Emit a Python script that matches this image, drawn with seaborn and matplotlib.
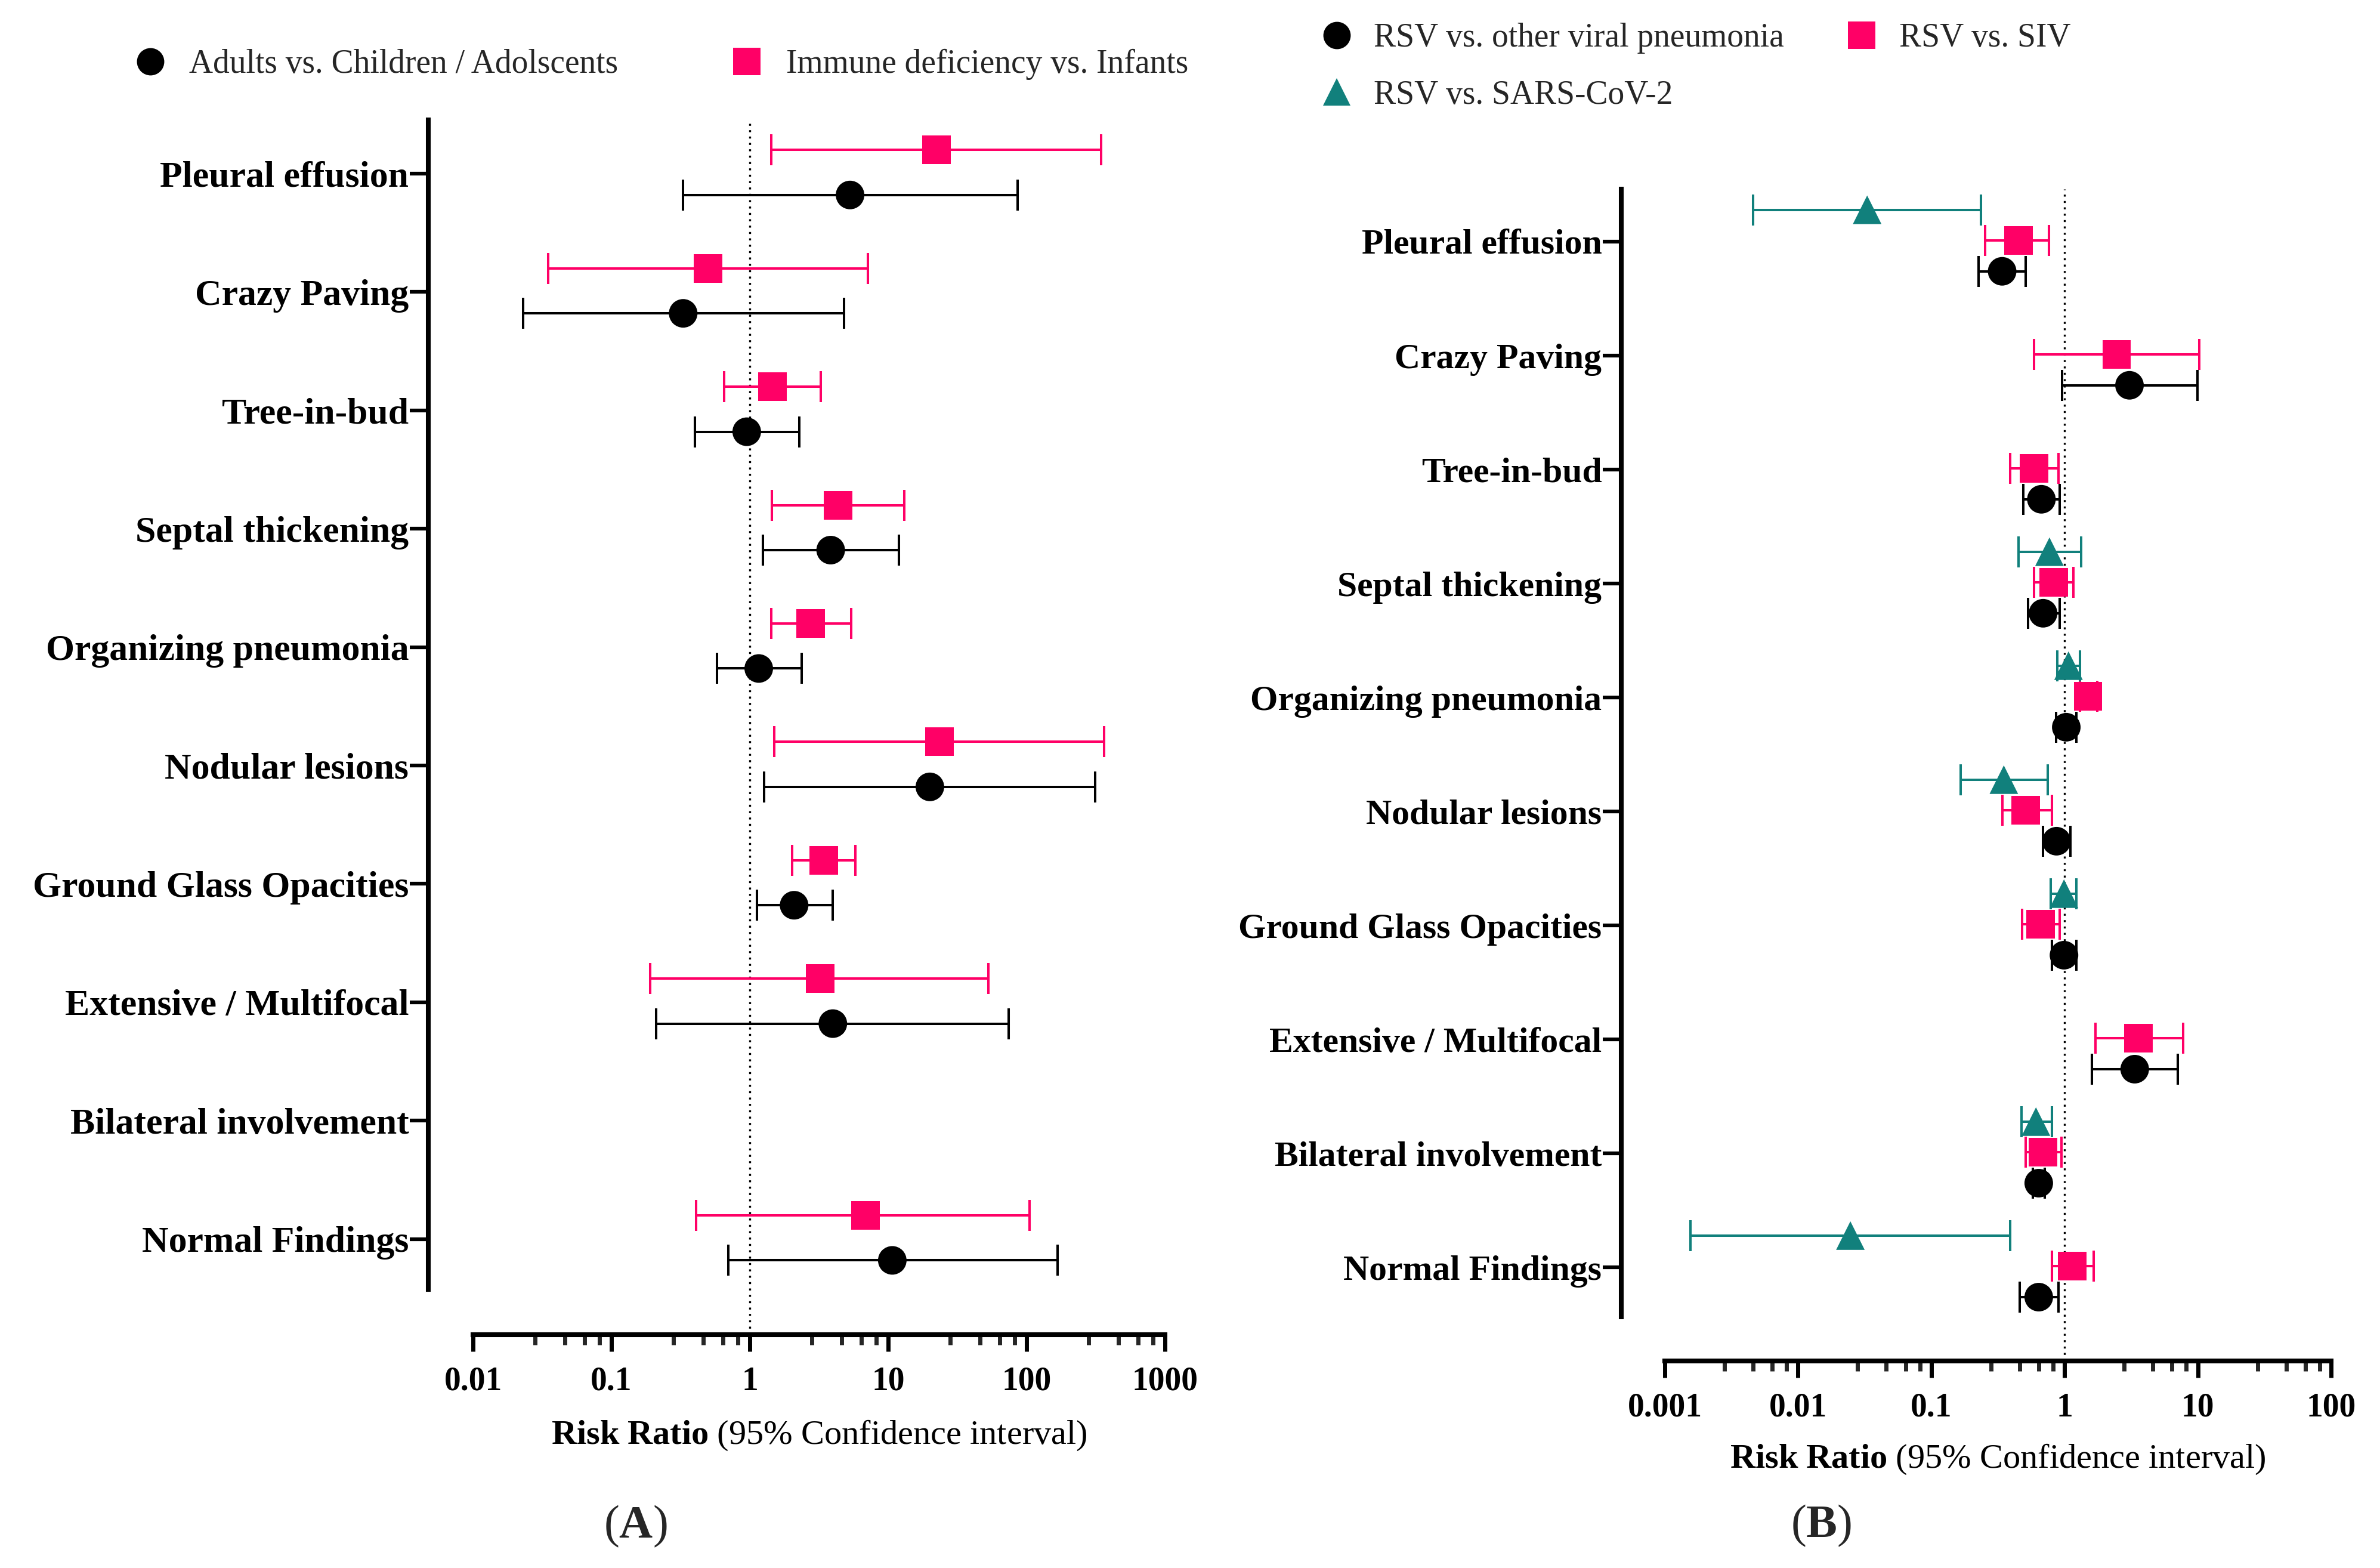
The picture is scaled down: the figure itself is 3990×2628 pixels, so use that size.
import numpy as np
import pandas as pd
import seaborn as sns
import matplotlib.pyplot as plt
from matplotlib.lines import Line2D
from matplotlib.ticker import NullFormatter

# findings, top to bottom
findings = ["Pleural effusion", "Crazy Paving", "Tree-in-bud", "Septal thickening",
            "Organizing pneumonia", "Nodular lesions", "Ground Glass Opacities",
            "Extensive / Multifocal", "Bilateral involvement", "Normal Findings"]

# Panel A: Adults vs. Children/Adolscents
adult_rr = [5.3, 0.33, 0.95, 3.84, 1.16, 20.0, 2.09, 3.98, np.nan, 10.7]
adult_lo = [0.33, 0.023, 0.40, 1.24, 0.58, 1.27, 1.13, 0.21, np.nan, 0.70]
adult_hi = [86, 4.8, 2.28, 12.0, 2.37, 312, 3.98, 74, np.nan, 168]

# Panel A: Immune deficiency vs. Infants
immune_rr = [22.3, 0.50, 1.46, 4.35, 2.76, 23.5, 3.42, 3.21, np.nan, 6.87]
immune_lo = [1.43, 0.035, 0.65, 1.44, 1.43, 1.5, 2.03, 0.19, np.nan, 0.41]
immune_hi = [346, 7.1, 3.25, 13.1, 5.4, 363, 5.8, 53, np.nan, 105]

# Panel B: RSV vs. other viral pneumonia
other_rr = [0.34, 3.07, 0.67, 0.69, 1.03, 0.87, 0.99, 3.36, 0.64, 0.64]
other_lo = [0.226, 0.96, 0.49, 0.53, 0.86, 0.69, 0.80, 1.6, 0.58, 0.46]
other_hi = [0.51, 9.9, 0.92, 0.92, 1.23, 1.11, 1.23, 7.07, 0.71, 0.90]

# Panel B: RSV vs. SIV
siv_rr = [0.45, 2.46, 0.59, 0.83, 1.5, 0.51, 0.66, 3.59, 0.69, 1.14]
siv_lo = [0.254, 0.59, 0.39, 0.59, 1.3, 0.34, 0.48, 1.71, 0.51, 0.80]
siv_hi = [0.76, 10.3, 0.90, 1.17, 1.75, 0.80, 0.92, 7.74, 0.95, 1.66]

# Panel B: RSV vs. SARS-CoV-2
cov_rr = [0.033, np.nan, np.nan, 0.77, 1.07, 0.35, 0.99, np.nan, 0.61, 0.0247]
cov_lo = [0.0046, np.nan, np.nan, 0.45, 0.88, 0.166, 0.79, np.nan, 0.475, 0.00155]
cov_hi = [0.235, np.nan, np.nan, 1.33, 1.30, 0.75, 1.23, np.nan, 0.80, 0.39]

ticks_a = [0.01, 0.1, 1, 10, 100, 1000]
tick_labels_a = ["0.01", "0.1", "1", "10", "100", "1000"]
ticks_b = [0.001, 0.01, 0.1, 1, 10, 100]
tick_labels_b = ["0.001", "0.01", "0.1", "1", "10", "100"]

PINK = "#FF0066"
TEAL = "#11807C"
BLACK = "#000000"

sns.set_theme(style="ticks")
plt.rcParams["font.family"] = ["Liberation Serif", "DejaVu Serif"]
plt.rcParams["mathtext.fontset"] = "custom"
plt.rcParams["mathtext.rm"] = "Liberation Serif"
plt.rcParams["mathtext.it"] = "Liberation Serif:italic"
plt.rcParams["mathtext.bf"] = "Liberation Serif:bold"

XLABEL = r"$\mathbf{Risk\ Ratio}\ \mathrm{(95\%\ Confidence\ interval)}$"


def make_df(groups):
    frames = []
    for name, rr, lo, hi, off in groups:
        frames.append(pd.DataFrame({"finding": findings, "group": name,
                                    "rr": rr, "lo": lo, "hi": hi,
                                    "y": np.arange(len(findings)) + off}))
    return pd.concat(frames, ignore_index=True).dropna()


def draw_panel(ax, df, colors, markers, ticks, tick_labels, ylim, spine_lo, out_pt,
               ylab_size):
    ax.set_xscale("log")
    ax.axvline(1, color="black", lw=2.4, ls=(0, (1, 2.2)), zorder=1)
    for g in colors:
        sub = df[df.group == g]
        ax.errorbar(sub.rr, sub.y, xerr=[sub.rr - sub.lo, sub.hi - sub.rr],
                    fmt="none", ecolor=colors[g], elinewidth=2.9,
                    capsize=18.7, capthick=2.9, zorder=2)
    sns.scatterplot(data=df, x="rr", y="y", hue="group", style="group",
                    hue_order=list(colors), style_order=list(colors),
                    palette=colors, markers=markers, s=1190, linewidth=0,
                    legend=False, ax=ax, zorder=3)
    ax.set_xlim(ticks[0], ticks[-1])
    ax.set_ylim(*ylim)
    ax.set_xticks(ticks, tick_labels)
    minors = [m * t for t in ticks[:-1] for m in (2.8, 4.6, 6.4, 8.2)]
    ax.set_xticks(minors, minor=True)
    ax.xaxis.set_minor_formatter(NullFormatter())
    ax.set_yticks(range(len(findings)), findings)
    ax.set_ylabel("")
    sns.despine(ax=ax)
    ax.spines["left"].set_position(("outward", out_pt))
    ax.spines["left"].set_bounds(ylim[1], spine_lo)
    for s in ("left", "bottom"):
        ax.spines[s].set_linewidth(5.8)
        ax.spines[s].set_color("black")
    ax.tick_params(axis="x", which="major", length=20, width=5, pad=18,
                   labelsize=40, colors="black")
    ax.tick_params(axis="x", which="minor", length=12, width=5)
    ax.tick_params(axis="y", length=22, width=4.5, pad=1.5, labelsize=ylab_size,
                   colors="black")
    for lab in ax.get_xticklabels() + ax.get_yticklabels():
        lab.set_fontweight("bold")
    ax.set_xlabel(XLABEL, fontsize=42, color="black")
    ax.set_facecolor("white")


fig = plt.figure(figsize=(39.9, 26.28), dpi=100, facecolor="white")
ax_a = fig.add_axes([0.19875, 0.14878, 0.29075, 0.77474])
ax_b = fig.add_axes([0.6995, 0.13204, 0.27995, 0.74734])

# Panel A
names_a = ["Adults vs. Children / Adolscents", "Immune deficiency vs. Infants"]
df_a = make_df([(names_a[0], adult_rr, adult_lo, adult_hi, 0.18),
                (names_a[1], immune_rr, immune_lo, immune_hi, -0.20)])
draw_panel(ax_a, df_a, {names_a[0]: BLACK, names_a[1]: PINK},
           {names_a[0]: "o", names_a[1]: "s"},
           ticks_a, tick_labels_a, (9.808, -0.454), 9.425, 54, 44.5)
ax_a.xaxis.set_label_coords(0.5, -0.0899)
ax_a.xaxis.label.set_va("baseline")

# Panel B
names_b = ["RSV vs. other viral pneumonia", "RSV vs. SIV", "RSV vs. SARS-CoV-2"]
df_b = make_df([(names_b[0], other_rr, other_lo, other_hi, 0.26),
                (names_b[1], siv_rr, siv_lo, siv_hi, -0.01),
                (names_b[2], cov_rr, cov_lo, cov_hi, -0.28)])
draw_panel(ax_b, df_b, {names_b[0]: BLACK, names_b[1]: PINK, names_b[2]: TEAL},
           {names_b[0]: "o", names_b[1]: "s", names_b[2]: "^"},
           ticks_b, tick_labels_b, (9.82, -0.461), 9.435, 52.6, 43)
ax_b.xaxis.set_label_coords(0.5, -0.0911)
ax_b.xaxis.label.set_va("baseline")


def handle(marker, color):
    return Line2D([], [], ls="none", marker=marker, color=color,
                  markersize=33, markeredgewidth=0)


leg_a = ax_a.legend([handle("o", BLACK), handle("s", PINK)], names_a,
                    loc="center left", bbox_to_anchor=(224 / 3990, 1 - 108 / 2628),
                    bbox_transform=fig.transFigure, ncol=2, frameon=False,
                    fontsize=40, handlelength=1.0, handletextpad=0.68,
                    columnspacing=3.38, borderpad=0, borderaxespad=0)

leg_b = ax_b.legend([handle("o", BLACK), handle("^", TEAL), handle("s", PINK)],
                    [names_b[0], names_b[2], names_b[1]],
                    loc="center left", bbox_to_anchor=(2213 / 3990, 1 - 112 / 2628),
                    bbox_transform=fig.transFigure, ncol=2, frameon=False,
                    fontsize=40, handlelength=1.0, handletextpad=0.62,
                    columnspacing=1.85, borderpad=0, borderaxespad=0,
                    labelspacing=0.78)

fig.text(1065 / 3990, 1 - 2577 / 2628, r"$\mathrm{(}\mathbf{A}\mathrm{)}$",
         ha="center", va="baseline", fontsize=56)
fig.text(3053 / 3990, 1 - 2576 / 2628, r"$\mathrm{(}\mathbf{B}\mathrm{)}$",
         ha="center", va="baseline", fontsize=56)

fig.savefig("out.png", dpi=100, facecolor="white")
